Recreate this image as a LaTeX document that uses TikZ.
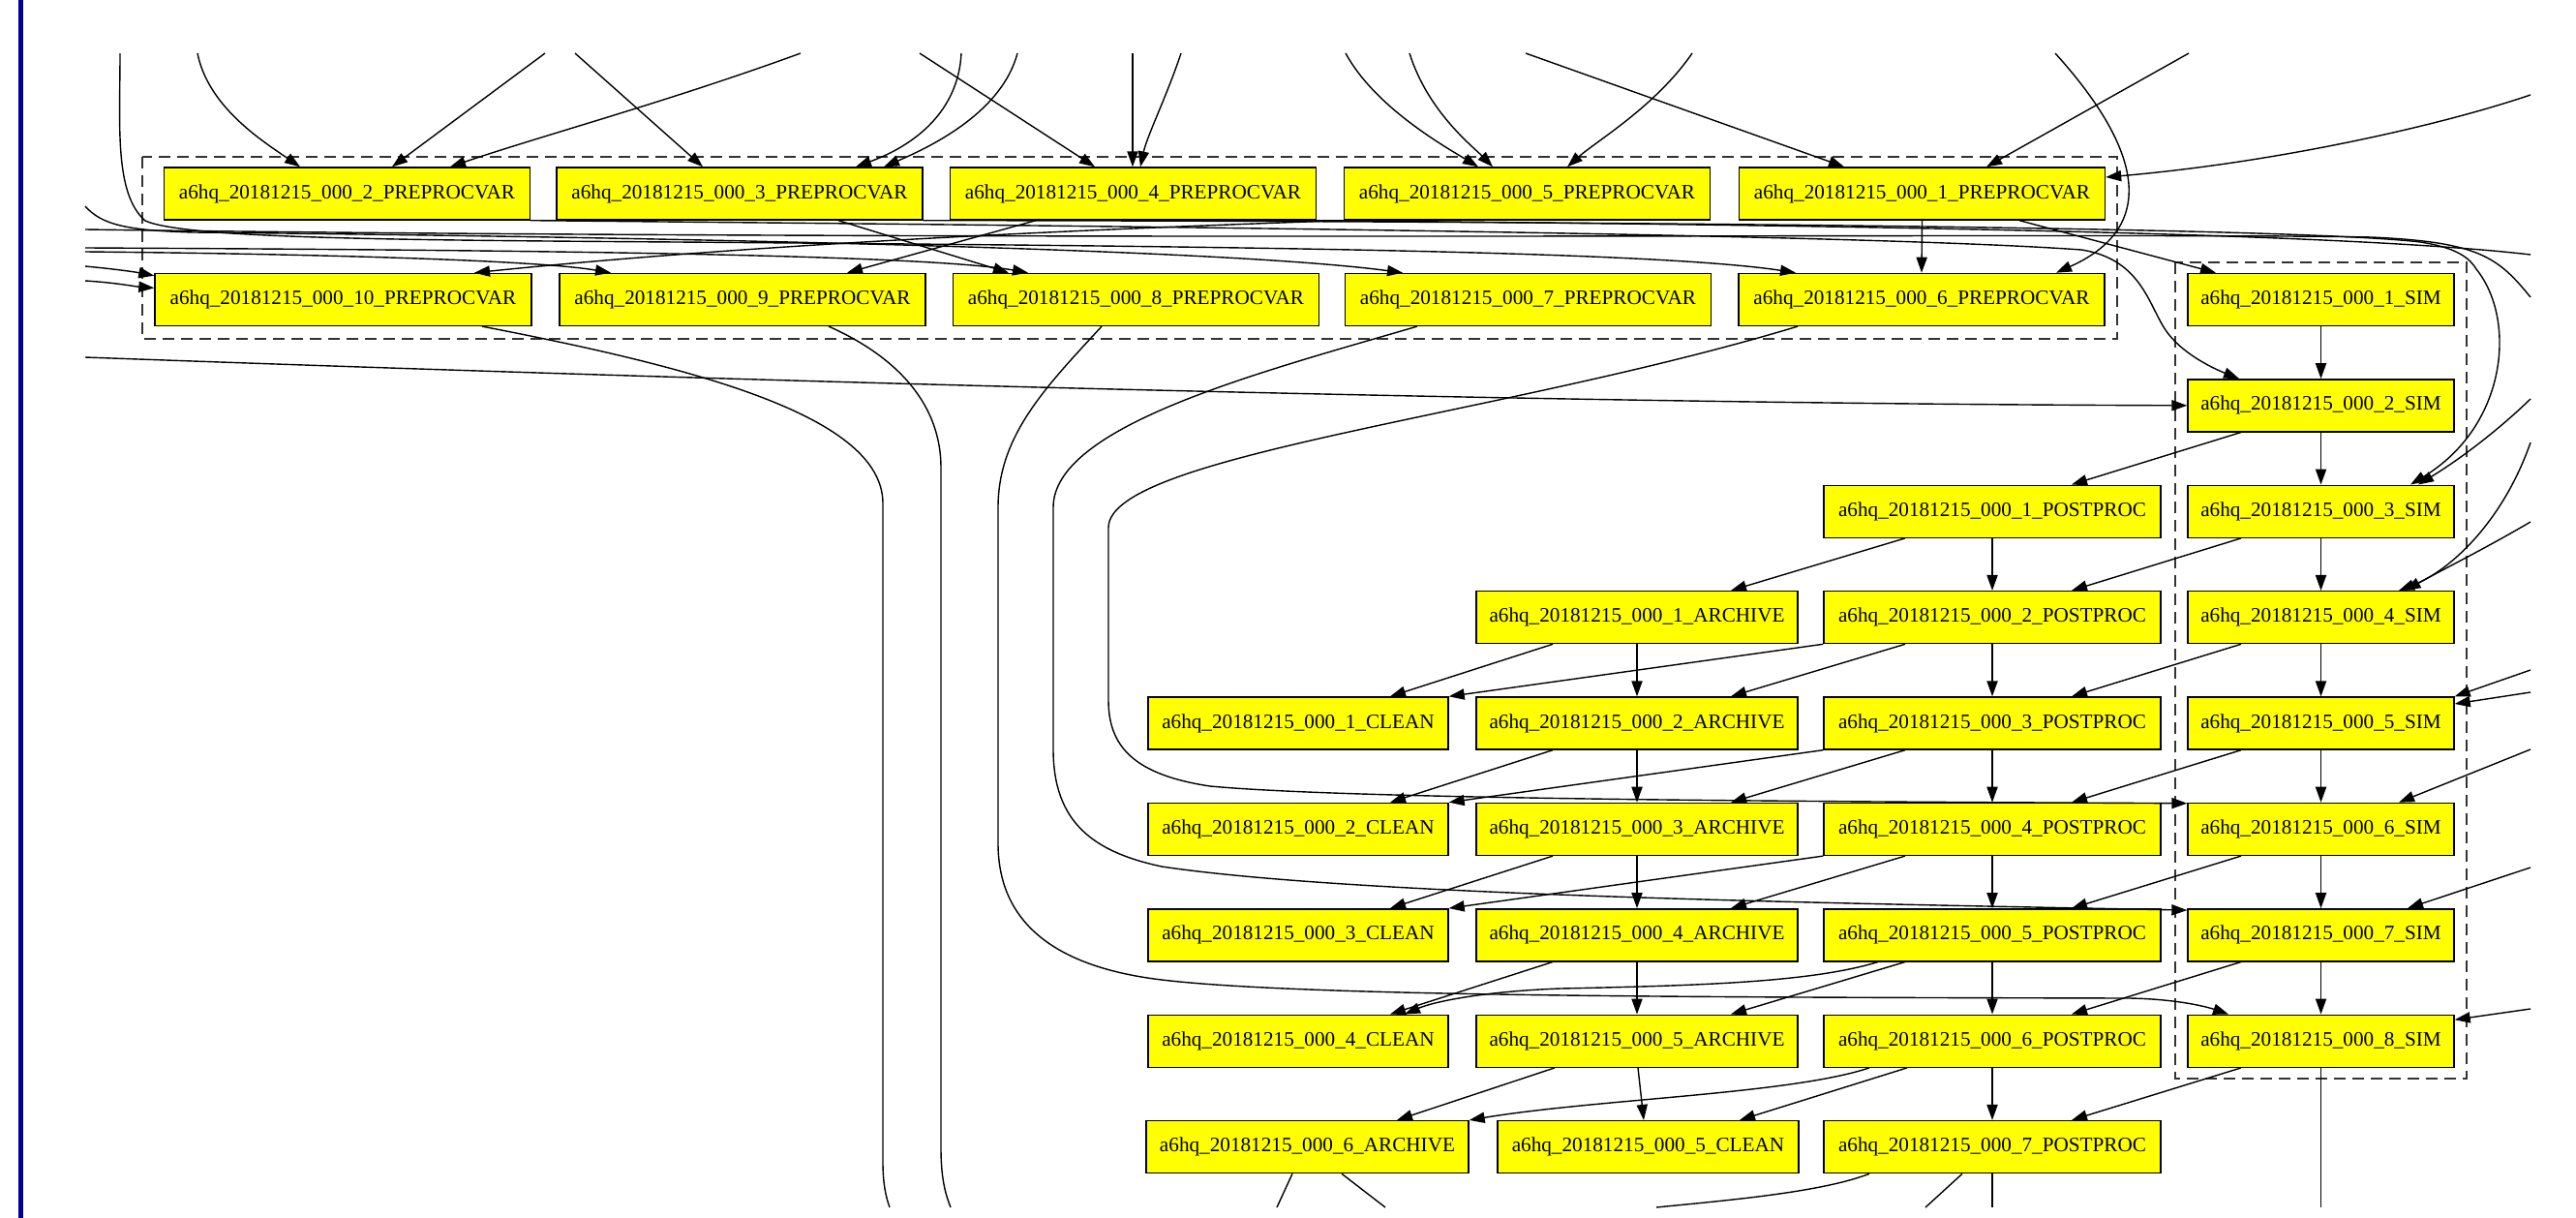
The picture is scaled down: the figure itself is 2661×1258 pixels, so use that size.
\documentclass[tikz,border=0pt]{standalone}
\usepackage{fontspec}
\setmainfont{Liberation Serif}
\usetikzlibrary{arrows.meta,calc}
\definecolor{barblue}{RGB}{0,0,140}
\definecolor{jobfill}{RGB}{255,255,0}
\newcommand{\wfname}[1]{a6hq\_20181215\_000\_#1}
\begin{document}
\begin{tikzpicture}[x=0.5pt,y=-0.5pt,
  job/.style={draw=black,fill=jobfill,line width=0.7pt,minimum height=27pt,inner sep=0pt,
              font=\fontsize{10.6}{12}\selectfont},
  prep/.style={job,minimum width=189pt},
  sim/.style={job,minimum width=137.5pt},
  post/.style={job,minimum width=174pt},
  arch/.style={job,minimum width=166pt},
  clean/.style={job,minimum width=155pt},
  dep/.style={line width=0.7pt,-{Triangle[length=8pt,width=5.6pt]}},
  cut/.style={line width=0.7pt},
  grp/.style={draw=black!80,line width=0.7pt,dash pattern=on 6pt off 3.5pt}]
\useasboundingbox (0,0) rectangle (2661,1258);
\fill[barblue] (19,0) rectangle (24,1258);

% clusters
\draw[grp] (147,162) rectangle (2187,350);
\draw[grp] (2247,271) rectangle (2548,1114);

% preprocessing jobs
\node[prep] (p2) at (358.5,200) {\wfname{2\_PREPROCVAR}};
\node[prep] (p3) at (764,200) {\wfname{3\_PREPROCVAR}};
\node[prep] (p4) at (1170.5,200) {\wfname{4\_PREPROCVAR}};
\node[prep] (p5) at (1577.5,200) {\wfname{5\_PREPROCVAR}};
\node[prep] (p1) at (1985.5,200) {\wfname{1\_PREPROCVAR}};
\node[prep,minimum width=194.5pt] (p10) at (354.5,309.4) {\wfname{10\_PREPROCVAR}};
\node[prep] (p9) at (767,309.4) {\wfname{9\_PREPROCVAR}};
\node[prep] (p8) at (1173.5,309.4) {\wfname{8\_PREPROCVAR}};
\node[prep] (p7) at (1578.5,309.4) {\wfname{7\_PREPROCVAR}};
\node[prep] (p6) at (1985,309.4) {\wfname{6\_PREPROCVAR}};

% simulation chain
\foreach \k/\y in {1/309.4,2/418.8,3/528.2,4/637.6,5/747,6/856.4,7/965.8,8/1075.2}
  \node[sim] (s\k) at (2397.5,\y) {\wfname{\k\_SIM}};
% post-processing
\foreach \k/\y in {1/528.2,2/637.6,3/747,4/856.4,5/965.8,6/1075.2,7/1184.6}
  \node[post] (pp\k) at (2058,\y) {\wfname{\k\_POSTPROC}};
% archive
\foreach \k/\y in {1/637.6,2/747,3/856.4,4/965.8,5/1075.2}
  \node[arch] (a\k) at (1691,\y) {\wfname{\k\_ARCHIVE}};
\node[arch,minimum width=166.5pt] (a6) at (1350.5,1184.6) {\wfname{6\_ARCHIVE}};
% clean
\foreach \k/\y in {1/747,2/856.4,3/965.8,4/1075.2}
  \node[clean] (c\k) at (1341,\y) {\wfname{\k\_CLEAN}};
\node[clean,minimum width=155.5pt] (c5) at (1702.5,1184.6) {\wfname{5\_CLEAN}};

% free ends at the border of the view
\coordinate (in1) at (124,55);   \coordinate (in2) at (204,55);
\coordinate (in3) at (563,55);   \coordinate (in4) at (827,55);
\coordinate (in5) at (594,55);   \coordinate (in6) at (993,55);
\coordinate (in7) at (1051,55);  \coordinate (in8) at (950,55);
\coordinate (in9) at (1170,55);  \coordinate (in10) at (1220,55);
\coordinate (in11) at (1390,55); \coordinate (in12) at (1456,55);
\coordinate (in13) at (1748,55); \coordinate (in14) at (1576,55);
\coordinate (in15) at (2261,55); \coordinate (in16) at (2123,55);
\coordinate (lb1) at (88,213);   \coordinate (lb2) at (88,237);
\coordinate (lb3) at (88,256);   \coordinate (lb4) at (88,260);
\coordinate (lb5) at (88,275);   \coordinate (lb6) at (88,290);
\coordinate (lb7) at (88,369);
\coordinate (ri1) at (2614,98);  \coordinate (ri2) at (2614,412);
\coordinate (ri3) at (2614,457); \coordinate (ri4) at (2614,539);
\coordinate (ri5) at (2614,692); \coordinate (ri6) at (2614,715);
\coordinate (ri7) at (2614,774); \coordinate (ri8) at (2614,896);
\coordinate (ri9) at (2614,1042);
\coordinate (ro1) at (2614,263); \coordinate (ro2) at (2614,307);
\coordinate (o1) at (1319,1247); \coordinate (o2) at (1431,1247);
\coordinate (o3) at (1711,1247); \coordinate (o4) at (1989,1247);
\coordinate (o5) at (2058,1247); \coordinate (o6) at (2397.5,1247);
\coordinate (o7) at (919,1247);  \coordinate (o8) at (982,1247);

% inputs from above
\draw[dep] (in2) .. controls (215,110) and (270,145) .. ($(p2.north)+(-48.5,0)$);
\draw[dep] (in3) -- ($(p2.north)+(46.5,0)$);
\draw[dep] (in4) .. controls (690,105) and (560,140) .. ($(p2.north)+(106.5,0)$);
\draw[dep] (in5) -- ($(p3.north)+(-38,0)$);
\draw[dep] (in6) .. controls (990,115) and (945,150) .. ($(p3.north)+(120,0)$);
\draw[dep] (in7) .. controls (1035,115) and (965,150) .. ($(p3.north)+(149,0)$);
\draw[dep] (in8) -- ($(p4.north)+(-39.5,0)$);
\draw[dep] (in9) -- ($(p4.north)+(-0.5,0)$);
\draw[dep] (in10) .. controls (1205,100) and (1185,140) .. ($(p4.north)+(7.5,0)$);
\draw[dep] (in11) .. controls (1420,110) and (1490,150) .. ($(p5.north)+(-50.5,0)$);
\draw[dep] (in12) .. controls (1475,115) and (1520,150) .. ($(p5.north)+(-35.5,0)$);
\draw[dep] (in13) .. controls (1710,110) and (1650,145) .. ($(p5.north)+(41.5,0)$);
\draw[dep] (in14) -- ($(p1.north)+(-80.5,0)$);
\draw[dep] (in15) -- ($(p1.north)+(66.5,0)$);
\draw[dep] (in16) .. controls (2200,140) and (2240,230) .. ($(p6.north)+(139,0)$);
\draw[dep] (ri1) .. controls (2520,130) and (2350,168) .. ($(p1.east)+(0,-17)$);

% edges inside the preprocessing cluster
\draw[dep] (p1.south) -- (p6.north);
\draw[dep] ($(p3.south)+(102,0)$) -- ($(p8.north)+(-131.5,0)$);
\draw[dep] ($(p4.south)+(-100.5,0)$) -- ($(p9.north)+(108,0)$);
\draw[dep] (p5.south west) .. controls (1150,236) and (800,250) .. ($(p10.north)+(135.5,0)$);
\draw[dep] ($(p1.south)+(100.5,0)$) -- ($(s1.north)+(-108.5,0)$);

% bundle between the two preprocessing rows
\draw[dep] (lb5) .. controls (120,278) and (140,281) .. ($(p10.north west)+(0,3)$);
\draw[dep] (lb6) .. controls (120,292) and (140,296) .. ($(p10.west)+(0,-12)$);
\draw[dep] (lb4) .. controls (300,262) and (550,268) .. ($(p9.north)+(-136,0)$);
\draw[dep] (lb3) .. controls (500,258) and (950,262) .. ($(p8.north)+(-111.5,0)$);
\draw[dep] (lb1) .. controls (105,232) and (130,238) .. (200,240)
   .. controls (600,244) and (1250,255) .. ($(p7.north)+(-129.5,0)$);
\draw[dep] (in1) .. controls (124,130) and (118,200) .. (150,228)
   .. controls (190,246) and (400,248) .. (700,250)
   .. controls (1200,254) and (1700,258) .. ($(p6.north)+(-130,0)$);
\draw[cut] (lb2) .. controls (1000,250) and (2200,240) .. (2450,245)
   .. controls (2560,250) and (2580,265) .. (ro2);
\draw[cut] (p4.south east) .. controls (1800,232) and (2400,238) .. (ro1);
\draw[dep] (p2.south east) .. controls (1000,232) and (1900,240) .. (2150,258)
   .. controls (2215,268) and (2220,320) .. (2240,345)
   .. controls (2258,368) and (2290,382) .. ($(s2.north)+(-84.5,0)$);
\draw[dep] (p3.south east) .. controls (1400,228) and (2350,232) .. (2500,250)
   .. controls (2540,256) and (2552,268) .. (2558,278)
   .. controls (2600,330) and (2590,440) .. ($(s3.north)+(92.5,0)$);

% long line into the second simulation
\draw[dep] (lb7) .. controls (800,395) and (1600,417) .. (s2.west);

% inputs from the right
\draw[dep] (ri2) .. controls (2580,445) and (2540,475) .. ($(s3.north)+(100.5,0)$);
\draw[dep] (ri3) .. controls (2585,540) and (2530,590) .. ($(s4.north)+(80.5,0)$);
\draw[dep] (ri4) .. controls (2570,565) and (2520,590) .. ($(s4.north)+(87,0)$);
\draw[dep] (ri5) -- (s5.north east);
\draw[dep] (ri6) -- ($(s5.east)+(0,-20)$);
\draw[dep] (ri7) -- ($(s6.north)+(80.5,0)$);
\draw[dep] (ri8) -- ($(s7.north)+(89.5,0)$);
\draw[dep] (ri9) -- ($(s8.east)+(0,-22)$);

% lower preprocessing row down to the simulations
\draw[cut] ($(p10.south)+(143.5,0)$) .. controls (720,380) and (912,430) .. (912,520)
   -- (912,1200) .. controls (912,1222) and (915,1236) .. (o7);
\draw[cut] ($(p9.south)+(89,0)$) .. controls (930,370) and (972,420) .. (972,483)
   -- (972,1186) .. controls (972,1215) and (976,1232) .. (o8);
\draw[dep] ($(p8.south)+(-35.5,0)$) .. controls (1080,400) and (1031,450) .. (1031,524)
   -- (1031,871) .. controls (1031,960) and (1100,1000) .. (1200,1012)
   .. controls (1350,1030) and (1800,1030) .. (2200,1031)
   .. controls (2250,1032) and (2280,1040) .. ($(s8.north)+(-95.5,0)$);
\draw[dep] ($(p7.south)+(-114.5,0)$) .. controls (1300,385) and (1088,440) .. (1088,524)
   -- (1088,774) .. controls (1088,850) and (1130,880) .. (1200,895)
   .. controls (1400,925) and (1900,933) .. ($(s7.north west)+(0,2)$);
\draw[dep] ($(p6.south)+(-128,0)$) .. controls (1550,430) and (1145,470) .. (1145,545)
   -- (1145,723) .. controls (1145,770) and (1170,800) .. (1250,812)
   .. controls (1400,826) and (1900,828) .. ($(s6.north west)+(0,1)$);

% grid of simulation, post-processing, archive and clean jobs
\foreach \k/\n in {1/2,2/3,3/4,4/5,5/6,6/7,7/8}{
  \draw[dep] (s\k.south) -- (s\n.north);
  \draw[dep] ($(s\n.south)+(-82.5,0)$) -- ($(pp\k.north)+(82,0)$);
}
\foreach \k/\n in {1/2,2/3,3/4,4/5,5/6,6/7}
  \draw[dep] (pp\k.south) -- (pp\n.north);
\foreach \k in {1,...,5}
  \draw[dep] ($(pp\k.south)+(-90,0)$) -- ($(a\k.north)+(97,0)$);
\foreach \k/\n in {2/1,3/2,4/3}
  \draw[dep] (pp\k.south west) -- (c\n.north east);
\foreach \k/\n in {1/2,2/3,3/4,4/5}
  \draw[dep] (a\k.south) -- (a\n.north);
\foreach \k in {1,...,4}
  \draw[dep] ($(a\k.south)+(-87,0)$) -- ($(c\k.north)+(95,0)$);
\draw[dep] ($(pp5.south)+(-118,0)$) .. controls (1870,1015) and (1750,1018) .. (1612,1021)
   .. controls (1530,1024) and (1480,1035) .. ($(c4.north)+(110,0)$);
\draw[dep] ($(a5.south)+(1,0)$) -- ($(c5.north)+(-4.5,0)$);
\draw[dep] ($(a5.south)+(-85,0)$) -- ($(a6.north)+(92.5,0)$);
\draw[dep] ($(pp6.south)+(-88,0)$) -- ($(c5.north)+(94.5,0)$);
\draw[dep] ($(pp6.south)+(-127,0)$) .. controls (1850,1130) and (1650,1135) .. (a6.north east);

% edges leaving the view at the bottom
\draw[cut] ($(a6.south)+(-15.5,0)$) -- (o1);
\draw[cut] ($(a6.south)+(35.5,0)$) -- (o2);
\draw[cut] ($(pp7.south)+(-127,0)$) .. controls (1880,1232) and (1780,1240) .. (o3);
\draw[cut] ($(pp7.south)+(-31,0)$) -- (o4);
\draw[cut] (pp7.south) -- (o5);
\draw[cut] (s8.south) -- (o6);
\end{tikzpicture}
\end{document}
